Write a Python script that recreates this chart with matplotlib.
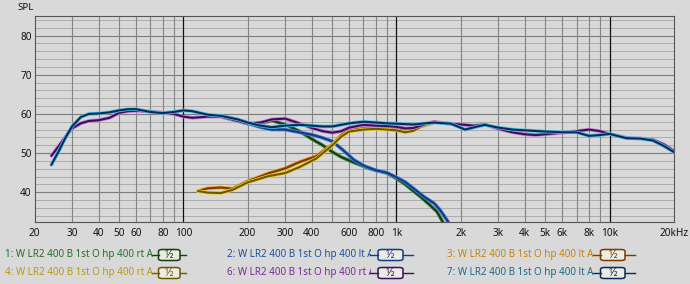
import numpy as np
import matplotlib
matplotlib.use("Agg")
import matplotlib.pyplot as plt
from matplotlib.patches import FancyBboxPatch
from matplotlib.transforms import Bbox

plt.rcParams["font.family"] = ["Noto Sans", "DejaVu Sans"]

# 1: woofer rt (green)
f1 = [150, 180, 200, 230, 260, 300, 350, 400, 450, 500, 550, 630, 750, 900, 1000, 1100, 1200, 1300, 1450, 1550, 1650]
spl1 = [59.3, 58.2, 57.5, 57.6, 58.3, 57.3, 55.6, 53.6, 52.0, 50.3, 49.0, 47.6, 46.0, 44.9, 43.5, 42.0, 40.3, 38.8, 36.5, 35.0, 32.4]

# 2: woofer lt (blue)
f2 = [150, 180, 200, 230, 260, 300, 350, 400, 450, 500, 560, 630, 700, 800, 900, 1000, 1100, 1200, 1350, 1500, 1600, 1750]
spl2 = [59.5, 58.5, 57.6, 56.6, 56.0, 56.0, 55.3, 54.7, 53.9, 53.0, 50.8, 48.3, 46.8, 45.6, 45.0, 43.8, 42.6, 41.0, 38.8, 37.2, 35.5, 32.4]

# 3: tweeter lt (orange), 4: tweeter rt (gold)
f34 = [117, 130, 150, 170, 200, 250, 300, 350, 420, 500, 550, 600, 700, 800, 900, 1000, 1100, 1200, 1350, 1500]
spl3 = [40.3, 41.0, 41.2, 40.9, 42.8, 44.8, 46.1, 47.7, 49.2, 52.2, 54.6, 55.8, 56.3, 56.4, 56.4, 56.3, 56.0, 56.3, 57.0, 57.8]
spl4 = [40.3, 39.9, 39.8, 40.6, 42.5, 44.1, 44.9, 46.4, 48.6, 52.0, 54.2, 55.5, 56.0, 56.2, 56.0, 55.8, 55.3, 55.7, 57.2, 58.0]

# 6: sum rt (purple)
f6 = [24, 26, 28, 30, 33, 36, 40, 45, 50, 55, 60, 70, 80, 90, 100, 110, 130, 150, 180, 200, 230, 260, 300, 350,
      400, 450, 500, 550, 600, 700, 800, 900, 1000, 1100, 1200, 1350, 1500, 1700, 2000, 2300, 2600, 3000, 3500,
      4000, 4500, 5000, 6000, 7000, 8000, 9000, 10000, 12000, 14000, 16000, 18000, 20000]
spl6 = [49.3, 51.8, 54.2, 56.3, 57.6, 58.2, 58.4, 59.0, 60.3, 60.7, 60.8, 60.6, 60.3, 60.0, 59.3, 59.0, 59.3, 59.3,
        58.2, 57.5, 57.8, 58.6, 58.8, 57.6, 56.4, 55.6, 55.2, 55.6, 56.5, 57.2, 57.0, 56.9, 56.7, 56.3, 56.4, 57.3,
        58.0, 57.6, 57.3, 57.0, 57.3, 56.2, 55.3, 54.8, 54.6, 54.8, 55.2, 55.6, 56.0, 55.6, 54.9, 53.9, 53.7, 53.4,
        52.2, 50.6]

# 7: sum lt (teal)
f7 = [24, 26, 28, 30, 33, 36, 40, 45, 50, 55, 60, 70, 80, 90, 100, 110, 130, 150, 180, 200, 230, 260, 300, 350,
      400, 450, 500, 600, 700, 800, 900, 1000, 1200, 1500, 1800, 2100, 2400, 2600, 3000, 3500, 4000, 5000, 6000,
      7000, 8000, 9000, 10000, 12000, 14000, 16000, 18000, 20000]
spl7 = [47.0, 50.5, 54.0, 56.8, 59.2, 60.0, 60.1, 60.4, 60.9, 61.2, 61.2, 60.5, 60.2, 60.5, 60.9, 60.7, 59.8, 59.5,
        58.6, 57.8, 57.0, 56.6, 57.0, 57.2, 57.0, 56.8, 56.8, 57.6, 58.0, 57.8, 57.6, 57.5, 57.3, 57.8, 57.5, 56.0,
        56.8, 57.2, 56.5, 56.0, 55.8, 55.5, 55.3, 55.3, 54.4, 54.6, 54.9, 53.8, 53.7, 53.2, 51.8, 50.3]

xticks = [20, 30, 40, 50, 60, 80, 100, 200, 300, 400, 600, 800, 1000, 2000, 3000, 4000, 5000, 6000, 8000, 10000, 20000]
xlabels = ["20", "30", "40", "50", "60", "80", "100", "200", "300", "400", "600", "800",
           "1k", "2k", "3k", "4k", "5k", "6k", "8k", "10k", "20kHz"]
yticks = [40, 50, 60, 70, 80]

names = ["1: W LR2 400 B 1st O hp 400 rt Avg", "2: W LR2 400 B 1st O hp 400 lt Avg",
         "3: W LR2 400 B 1st O hp 400 lt Avg", "4: W LR2 400 B 1st O hp 400 rt Avg",
         "6: W LR2 400 B 1st O hp 400 rt Avg", "7: W LR2 400 B 1st O hp 400 lt Avg"]

# (halo, core, text)
cols = {
    1: ("#4f9a4f", "#123f12", "#2a6a2a"),
    2: ("#4a86d8", "#153a8a", "#1f4f9f"),
    3: ("#eda12a", "#7a3a00", "#c8820a"),
    4: ("#f0d030", "#6a5800", "#b89a10"),
    6: ("#d27ad8", "#38105a", "#7a2a9a"),
    7: ("#4cc4e4", "#0a2a5a", "#1a6a8a"),
}

W, H = 690, 284
fig = plt.figure(figsize=(W / 100, H / 100), dpi=100)
bg = "#d9d9d9"
fig.patch.set_facecolor(bg)
ax = fig.add_axes([34.5 / W, 1 - 222 / H, (673.7 - 34.5) / W, (222 - 16) / H])
ax.set_facecolor(bg)
ax.set_xscale("log")
ax.set_xlim(20, 20000)
ax.set_ylim(32.4, 85)

# grid
for y in np.arange(34, 85, 2):
    if y % 10 == 0:
        ax.axhline(y, color="#7c7c7c", lw=0.8, zorder=1)
    else:
        ax.axhline(y, color="#a6a6a6", lw=0.6, zorder=1)
for dec in [10, 100, 1000, 10000]:
    for m in range(1, 10):
        f = dec * m
        if f <= 20 or f >= 20000:
            continue
        if m == 1:
            ax.axvline(f, color="#101010", lw=0.9, zorder=1)
        else:
            ax.axvline(f, color="#858585", lw=0.8, zorder=1)


def curve(f, s, key):
    halo, core, _ = cols[key]
    ax.plot(f, s, color=halo, lw=2.6, solid_capstyle="round", zorder=3)
    ax.plot(f, s, color=core, lw=1.5, solid_capstyle="round", zorder=3)


curve(f1, spl1, 1)
curve(f2, spl2, 2)
curve(f34, spl3, 3)
curve(f34, spl4, 4)
curve(f6, spl6, 6)
curve(f7, spl7, 7)

ax.set_xticks(xticks)
ax.set_xticklabels(xlabels)
ax.xaxis.set_minor_locator(matplotlib.ticker.NullLocator())
ax.set_yticks(yticks)
ax.tick_params(length=0, labelsize=7.2, colors="#111111")
ax.tick_params(axis="x", pad=4)
ax.tick_params(axis="y", pad=2)
for sp in ax.spines.values():
    sp.set_color("#555555")
    sp.set_linewidth(0.8)

fig.text(17 / W, 1 - 8 / H, "SPL", fontsize=7, va="center", ha="left", color="#111111")

# legend rows
slots = [(5, 255, 153, 151.5, 158.5, 180, 185.5), (226.7, 255, 371, 370, 378, 403, 413),
         (446.7, 255, 593, 593, 600.5, 625, 635), (5, 273, 153, 151.5, 158.5, 180, 185.5),
         (226.7, 273, 371, 370, 378, 403, 413), (446.7, 273, 593, 593, 600.5, 625, 635)]
order = [1, 2, 3, 4, 6, 7]
for name, key, (tx, ty, tend, l0, b0, b1, l1) in zip(names, order, slots):
    halo, core, tc = cols[key]
    t = fig.text(tx / W, 1 - ty / H, name, fontsize=7.1, color=tc, va="center", ha="left")
    t.set_clip_box(Bbox([[tx - 2, 0], [tend, H]]))
    t.set_clip_on(True)
    yy = 1 - ty / H
    fig.add_artist(plt.Line2D([l0 / W, b0 / W], [yy, yy], color=core, lw=1.0, transform=fig.transFigure))
    fig.add_artist(plt.Line2D([b1 / W, l1 / W], [yy, yy], color=core, lw=1.0, transform=fig.transFigure))
    box = FancyBboxPatch((b0 / W, yy - 5.5 / H), (b1 - b0) / W, 11 / H,
                         boxstyle="round,pad=0,rounding_size=0.006", transform=fig.transFigure,
                         facecolor="#ecece4", edgecolor=core, lw=1.1)
    fig.add_artist(box)
    fig.text((b0 + b1) / 2 / W, yy, "½", fontsize=8, color=core, ha="center", va="center")

fig.savefig("out.png", dpi=100, facecolor=bg)
